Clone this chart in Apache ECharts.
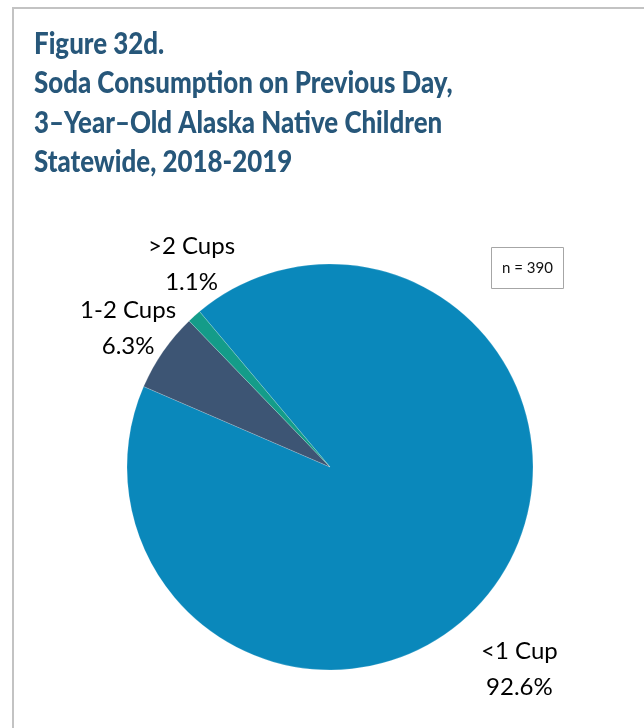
<!DOCTYPE html>
<html>
<head>
<meta charset="utf-8">
<script src="https://cdn.jsdelivr.net/npm/echarts@6/dist/echarts.min.js"></script>
<style>
  html, body { margin: 0; padding: 0; background: #fff; }
  #chart { width: 644px; height: 728px; }
</style>
</head>
<body>
<div id="chart"></div>
<script>
// Soda consumption categories and their shares (%)
const categories = ['<1 Cup', '1-2 Cups', '>2 Cups'];
const shares = [92.6, 6.3, 1.1];
const sliceColors = ['#0a88bb', '#3d5574', '#149c89'];
const sampleSize = 390;

const titleLines = [
  'Figure 32d.',
  'Soda Consumption on Previous Day,',
  '3\u2013Year\u2013Old Alaska Native Children',
  'Statewide, 2018-2019'
];

// shifts applied to the outside labels, per slice
const labelNudge = [[4, 68], [4, -45], [17, -35]];

const chart = echarts.init(document.getElementById('chart'), null, { renderer: 'canvas' });

chart.setOption({
  backgroundColor: '#ffffff',
  animation: false,
  title: [
    {
      text: 'n = ' + sampleSize,
      left: 491,
      top: 247,
      padding: [14, 11, 13, 11],
      borderColor: '#a6a6a6',
      borderWidth: 1,
      textStyle: {
        fontFamily: 'Lato',
        fontWeight: 'normal',
        fontSize: 15,
        color: '#111'
      }
    }
  ],
  graphic: [
    {
      type: 'polyline',
      shape: { points: [[13, 728], [13, 8], [644, 8]] },
      style: { stroke: '#c3c3c3', lineWidth: 2, fill: null }
    },
    {
      // heading, drawn slightly condensed
      type: 'text',
      x: 34,
      y: 24,
      scaleX: 0.835,
      style: {
        text: titleLines.join('\n'),
        font: '900 31px Lato',
        lineHeight: 39.5,
        fill: '#27577a',
        verticalAlign: 'top',
        align: 'left'
      }
    }
  ],
  series: [
    {
      type: 'pie',
      center: [330, 467],
      radius: [0, 203],
      startAngle: 130,
      clockwise: true,
      silent: true,
      itemStyle: { borderColor: 'rgba(255,255,255,0.35)', borderWidth: 0.5 },
      label: {
        show: true,
        position: 'outside',
        formatter: p => p.name + '\n' + p.value.toFixed(1) + '%',
        fontFamily: 'Lato',
        fontSize: 24,
        lineHeight: 36,
        color: '#000'
      },
      labelLine: { show: false, length: 22, length2: 0 },
      labelLayout: function (params) {
        const n = labelNudge[params.dataIndex];
        return { dx: n[0], dy: n[1], align: 'center' };
      },
      data: categories.map((c, i) => ({
        name: c,
        value: shares[i],
        itemStyle: { color: sliceColors[i] }
      }))
    }
  ]
});
</script>
</body>
</html>
